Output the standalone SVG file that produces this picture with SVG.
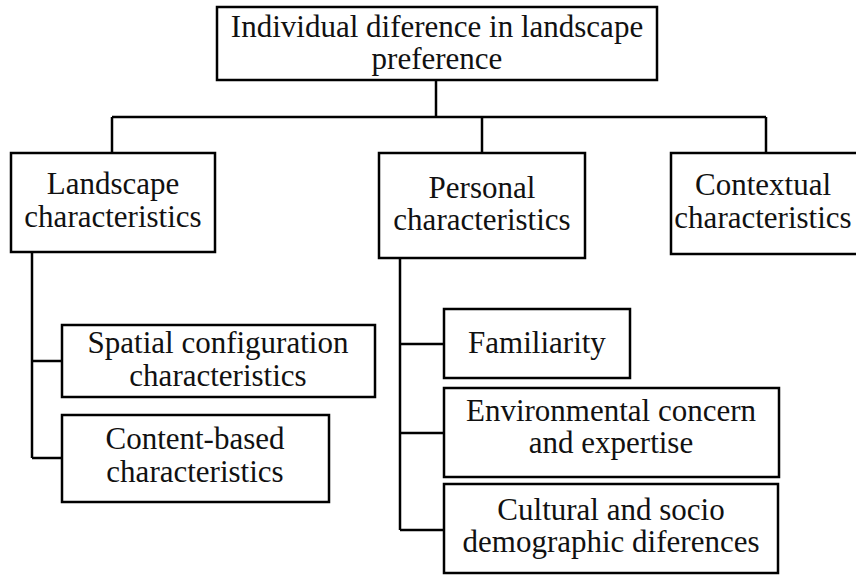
<svg xmlns="http://www.w3.org/2000/svg" width="856" height="575" viewBox="0 0 856 575">
<style>
rect.box { fill: #ffffff; stroke: #000000; stroke-width: 2.5; }
text { font-family: "Liberation Serif", "Times New Roman", serif; font-size: 31px; fill: #111111; text-anchor: middle; }
.conn path { fill: none; stroke: #000000; stroke-width: 2.5; }
</style>
<rect width="856" height="575" fill="#ffffff"/>
<g class="conn" id="connectors">
<path d="M436,80 V117"/>
<path d="M112,117 H766"/>
<path d="M112,117 V153"/>
<path d="M482,117 V153"/>
<path d="M766,117 V153"/>
<path d="M32,252 V458"/>
<path d="M32,361 H62"/>
<path d="M32,458 H62"/>
<path d="M400,258 V530"/>
<path d="M400,344 H444"/>
<path d="M400,433 H444"/>
<path d="M400,530 H444"/>
</g>
<g id="root">
<rect class="box" x="217" y="7" width="440" height="73"/>
<text x="437" y="37">Individual diference in landscape</text>
<text x="437" y="69">preference</text>
</g>
<g id="landscape">
<rect class="box" x="11" y="153" width="204" height="99"/>
<text x="113" y="194">Landscape</text>
<text x="113" y="227">characteristics</text>
</g>
<g id="personal">
<rect class="box" x="379" y="153" width="206" height="105"/>
<text x="482" y="198">Personal</text>
<text x="482" y="230">characteristics</text>
</g>
<g id="contextual">
<rect class="box" x="671" y="153" width="190" height="101"/>
<text x="763" y="195">Contextual</text>
<text x="763" y="228">characteristics</text>
</g>
<g id="spatial">
<rect class="box" x="62" y="325" width="313" height="72"/>
<text x="218" y="353">Spatial configuration</text>
<text x="218" y="386">characteristics</text>
</g>
<g id="content">
<rect class="box" x="62" y="415" width="267" height="87"/>
<text x="195" y="449">Content-based</text>
<text x="195" y="482">characteristics</text>
</g>
<g id="familiarity">
<rect class="box" x="444" y="309" width="186" height="69"/>
<text x="537" y="353">Familiarity</text>
</g>
<g id="environmental">
<rect class="box" x="444" y="388" width="335" height="89"/>
<text x="611" y="421">Environmental concern</text>
<text x="611" y="453">and expertise</text>
</g>
<g id="cultural">
<rect class="box" x="444" y="484" width="334" height="89"/>
<text x="611" y="520">Cultural and socio</text>
<text x="611" y="552">demographic diferences</text>
</g>
</svg>
